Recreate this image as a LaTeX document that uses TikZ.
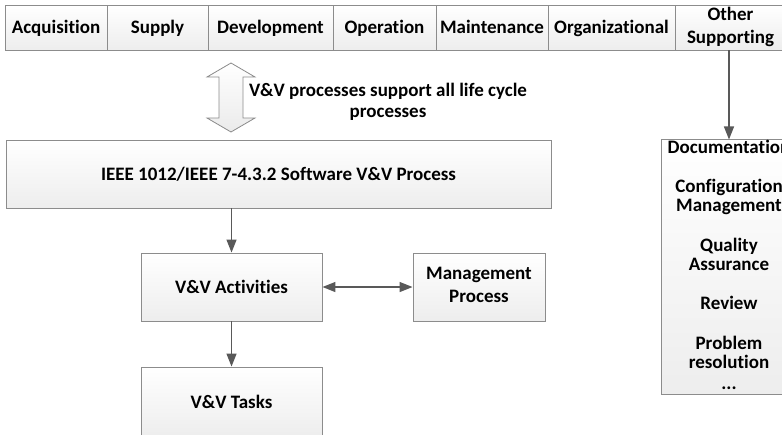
\documentclass[tikz,border=0pt]{standalone}
\usepackage{fontspec}
\setmainfont{Carlito}[Ligatures=NoCommon]
\usetikzlibrary{arrows.meta,shadows}

\definecolor{edgegray}{HTML}{8C8C8C}
\definecolor{linkgray}{HTML}{595959}

% invisible rule that keeps every label line at the same height and depth
\newcommand{\boxstrut}{\rule[-0.26em]{0pt}{1.16em}}

\tikzset{
  box/.style={draw=edgegray, line width=0.9pt, top color=white, bottom color=black!7,
    drop shadow={shadow xshift=1.2pt, shadow yshift=-1.2pt, opacity=0.25, fill=black},
    font=\bfseries\fontsize{19}{23}\selectfont, align=center, inner sep=0pt,
    execute at begin node=\boxstrut, execute at end node=\boxstrut},
  cell/.style={box, minimum height=45pt},
  link/.style={draw=linkgray, line width=1.3pt, -{Triangle[length=13pt,width=10pt]}},
  twoway/.style={draw=linkgray, line width=1.3pt, {Triangle[length=13pt,width=10pt]}-{Triangle[length=13pt,width=10pt]}},
  caption/.style={font=\bfseries\fontsize{19}{21}\selectfont, align=center}
}

\begin{document}
\begin{tikzpicture}[x=1pt,y=-1pt]
\useasboundingbox (0,0) rectangle (782,434);

% life cycle process row
\node[cell, minimum width=102pt] (acq) at (56,27.5) {Acquisition};
\node[cell, minimum width=101pt] (sup) at (157.5,27.5) {Supply};
\node[cell, minimum width=125pt] (dev) at (270.5,27.5) {Development};
\node[cell, minimum width=103pt] (ope) at (384.5,27.5) {Operation};
\node[cell, minimum width=112pt] (mai) at (492,27.5) {Maintenance};
\node[cell, minimum width=127pt] (org) at (611.5,27.5) {Organizational};
\node[cell, minimum width=111pt] (oth) at (730.5,27.5) {Other\\Supporting};

% hollow double arrow
\draw[edgegray, line width=0.8pt, top color=white, bottom color=black!8]
  (231,63) -- (255,77) -- (243,77) -- (243,118) -- (255,118) -- (231,132)
  -- (207,118) -- (219,118) -- (219,77) -- (207,77) -- cycle;
\node[caption] (note) at (388,101.5) {V\&V processes support all life cycle\\processes};

% V&V process hierarchy
\node[box, minimum width=545pt, minimum height=68pt] (ieee) at (278.5,174) {IEEE 1012/IEEE 7-4.3.2 Software V\&V Process};
\node[box, minimum width=181pt, minimum height=68pt] (act) at (231.5,287) {V\&V Activities};
\node[box, minimum width=132pt, minimum height=68pt] (mgmt) at (479,287) {Management\\Process};
\node[box, minimum width=181pt, minimum height=70pt] (task) at (231.5,402) {V\&V Tasks};

% supporting processes (extra head room pushes the list down a little)
\node[box, minimum width=136pt, minimum height=252pt, font=\bfseries\fontsize{19}{19.3}\selectfont,
      execute at begin node=\rule{0pt}{26pt}] (supp) at (729,267)
  {Documentation\\[20pt]Configuration\\Management\\[20pt]Quality\\Assurance\\[20pt]Review\\[20pt]Problem\\resolution\\[1.5pt]...};

% connectors
\draw[link] (act.north |- ieee.south) -- (act.north);
\draw[link] (act.south) -- (task.north);
\draw[twoway] (act.east) -- (mgmt.west);
\draw[link] (supp.north |- oth.south) -- (supp.north);
\end{tikzpicture}
\end{document}
